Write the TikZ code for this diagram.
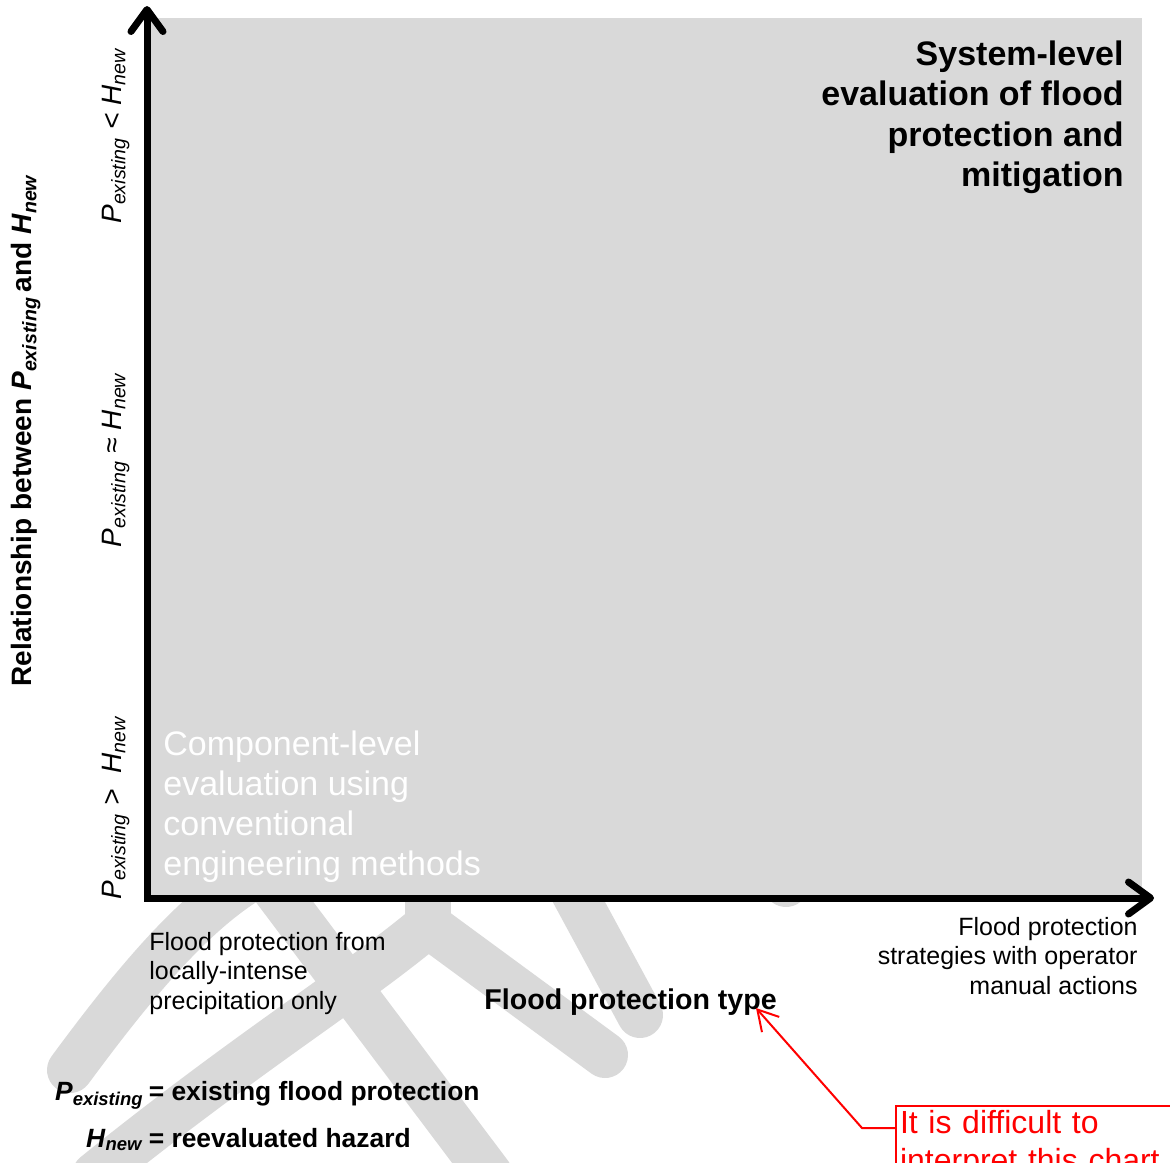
\documentclass[tikz,border=0pt]{standalone}
\usepackage{fontspec}
\setmainfont{Liberation Sans}
\usetikzlibrary{arrows.meta,positioning,calc}
\newcommand{\Pex}{\textit{P}\textsubscript{\textit{existing}}}
\newcommand{\Hnew}{\textit{H}\textsubscript{\textit{new}}}
\tikzset{
  regionfill/.style={fill=black!15, draw=none},
  wmark/.style={draw=black!15, line width=23pt, line cap=round, line join=round},
  axisline/.style={{Straight Barb[length=11pt,width=16pt,round]}-{Straight Barb[length=11pt,width=16pt,round]},
    line width=3.5pt, line join=miter},
  yaxislabel/.style={rotate=90, anchor=base, inner sep=0pt,
    font=\fontsize{14}{17}\selectfont\bfseries},
  ticklabel/.style={rotate=90, anchor=base, inner sep=0pt,
    font=\fontsize{14}{17}\selectfont\itshape},
  sysbox/.style={align=right, inner sep=0pt,
    font=\fontsize{17}{20.3}\selectfont\bfseries},
  compbox/.style={align=left, inner sep=0pt, text=white,
    font=\fontsize{17}{20}\selectfont},
  xticklabel/.style={inner sep=0pt, font=\fontsize{12.5}{14.7}\selectfont},
  xaxislabel/.style={inner sep=0pt, font=\fontsize{14.3}{17}\selectfont\bfseries},
  legendtext/.style={inner sep=0pt, font=\fontsize{13.2}{16}\selectfont\bfseries},
  notebox/.style={draw=red, line width=1pt, text=red, align=left,
    text width=160pt, inner sep=2pt, font=\fontsize{16}{19}\selectfont},
  notearrow/.style={-{Straight Barb[length=10pt,width=11.5pt]}, draw=red, line width=1pt},
}

\begin{document}
\begin{tikzpicture}[x=0.5pt, y=-0.5pt]
  \useasboundingbox (0,0) rectangle (1170,1162);

  % ============ Watermark fragments (behind the region) ============
  \draw[wmark] (70,1070) .. controls (140,975) and (200,905) .. (262,872) -- (490,1175);
  \draw[wmark] (95,1175) .. controls (250,1050) and (350,990) .. (428,925) -- (605,1055);
  \draw[wmark] (428,925) -- (428,870);
  \draw[wmark] (567,880) -- (640,1015);
  \draw[wmark] (785,875) -- (786,884);

  % ============ Evaluation region ============
  \fill[regionfill] (147,18) rectangle (1142,898);

  % ============ Axes ============
  \coordinate (origin) at (147,898);
  \coordinate (ytip)   at (147,6);
  \coordinate (xtip)   at (1154,898);
  \draw[axisline] (ytip) -- (origin) -- (xtip);

  % ============ Vertical axis labels ============
  \node[yaxislabel] (ylabel) at (32,430) {Relationship between \Pex\,and \Hnew};
  \node[ticklabel] (tickhigh) at (121,136) {\Pex\ < \Hnew};
  \node[ticklabel] (tickmid)  at (121,460) {\Pex\ ≈ \Hnew};
  \node[ticklabel] (ticklow)  at (121,808) {\Pex\ > \ \Hnew};

  % ============ Region texts ============
  \node[sysbox, anchor=north east] (syslevel) at (1124,40)
    {System-level\\evaluation of flood\\protection and\\mitigation};
  \node[compbox, anchor=north west] (complevel) at (163,730)
    {Component-level\\evaluation using\\conventional\\engineering methods};

  % ============ Horizontal axis labels ============
  \node[xticklabel, align=left, anchor=north west] (xleft) at (149,932)
    {Flood protection from\\locally-intense\\precipitation only};
  \node[xticklabel, align=right, anchor=north east] (xright) at (1138,917)
    {Flood protection\\strategies with operator\\manual actions};
  \node[xaxislabel, anchor=base west] (xlabel) at (484,1009) {Flood protection type};

  % ============ Legend ============
  \node[legendtext, anchor=base east] (legP) at (144,1100) {\Pex};
  \node[legendtext, anchor=base west] (legPdef) at (legP.base east) {\,= existing flood protection};
  \node[legendtext, anchor=base east] (legH) at (144,1147) {\Hnew};
  \node[legendtext, anchor=base west] (legHdef) at (legH.base east) {\,= reevaluated hazard};

  % ============ Review comment ============
  \node[notebox, anchor=north west] (note) at (895,1105)
    {It is difficult to\\interpret this chart};
  \coordinate (typee) at (756,1008);
  \coordinate (knee)  at (862,1128);
  \draw[notearrow] (note.west |- knee) -- (knee) -- (typee);

\end{tikzpicture}
\end{document}
